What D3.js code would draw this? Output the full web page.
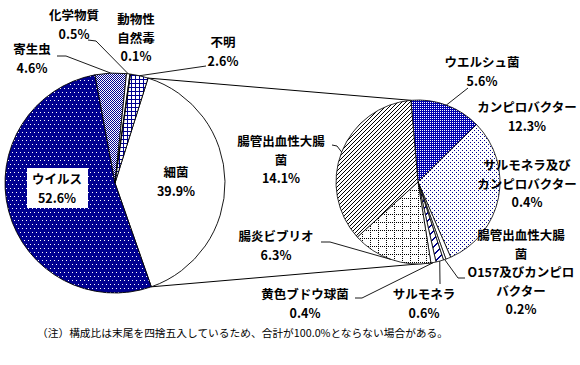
<!DOCTYPE html>
<html>
<head>
<meta charset="utf-8">
<script src="https://cdn.jsdelivr.net/npm/d3@7"></script>
<style>
  body { margin: 0; background: #fff; }
  text { font-family: "Noto Sans CJK JP", sans-serif; }
  pattern rect { shape-rendering: crispEdges; }
</style>
</head>
<body>
<div id="chart"></div>
<script>
// main pie (all causes), clockwise starting with bacteria
var leftCategories = ["細菌", "ウイルス", "寄生虫", "化学物質", "動物性自然毒", "不明"];
var leftValues = [39.9, 52.6, 4.6, 0.5, 0.1, 2.6];
var leftLabelLines = [["細菌"], ["ウイルス"], ["寄生虫"], ["化学物質"], ["動物性", "自然毒"], ["不明"]];

// secondary pie (breakdown of bacteria)
var rightCategories = ["ウエルシュ菌", "カンピロバクター", "サルモネラ及びカンピロバクター",
    "腸管出血性大腸菌O157及びカンピロバクター", "サルモネラ", "黄色ブドウ球菌", "腸炎ビブリオ", "腸管出血性大腸菌"];
var rightValues = [5.6, 12.3, 0.4, 0.2, 0.6, 0.4, 6.3, 14.1];
var rightLabelLines = [["ウエルシュ菌"], ["カンピロバクター"], ["サルモネラ及び", "カンピロバクター"],
    ["腸管出血性大腸", "菌", "O157及びカンピロ", "バクター"], ["サルモネラ"], ["黄色ブドウ球菌"], ["腸炎ビブリオ"], ["腸管出血性大腸", "菌"]];

var note = "（注）構成比は末尾を四捨五入しているため、合計が100.0%とならない場合がある。";

var width = 580, height = 365;
var deg = Math.PI / 180;

var svg = d3.select("#chart").append("svg")
    .attr("width", width)
    .attr("height", height);

// fill patterns (built on 8x8 tiles so they rasterise cleanly)
var defs = svg.append("defs");
var navy = "#000090";
function pattern(id, bg) {
    var p = defs.append("pattern").attr("id", id)
        .attr("patternUnits", "userSpaceOnUse").attr("width", 8).attr("height", 8);
    p.append("rect").attr("width", 8).attr("height", 8).attr("fill", bg);
    return p;
}
function dot(p, x, y, c) {
    p.append("rect").attr("x", x).attr("y", y).attr("width", 1).attr("height", 1).attr("fill", c);
}

var p1 = pattern("virus", navy);   // sparse white dots
[[1, 1], [5, 1], [3, 5], [7, 5]].forEach(function (q) { dot(p1, q[0], q[1], "#fff"); });

var p2 = pattern("checker", "#fff");  // 50% checkerboard
for (var i = 0; i < 8; i++) for (var j = 0; j < 8; j++) if ((i + j) % 2 == 0) dot(p2, i, j, navy);

var p3 = pattern("grid", "#fff");     // square grid
[0, 4].forEach(function (k) {
    p3.append("rect").attr("x", 0).attr("y", k).attr("width", 8).attr("height", 1).attr("fill", navy);
    p3.append("rect").attr("x", k).attr("y", 0).attr("width", 1).attr("height", 8).attr("fill", navy);
});

var p4 = pattern("densedots", "#0000b0");  // dense white dots
for (var i = 0; i < 8; i += 2) for (var j = 0; j < 8; j += 2) dot(p4, i, j, "#fff");

var p5 = pattern("lightdots", "#fff"); // sparse navy dots
for (var i = 0; i < 8; i += 4) for (var j = 0; j < 8; j += 4) { dot(p5, i, j, navy); dot(p5, i + 2, j + 2, navy); }

var p6 = pattern("diag", "#fff");      // thin forward diagonals
for (var k = 0; k < 8; k++) { dot(p6, k, (7 - k + 8) % 8, "#000"); dot(p6, k, (3 - k + 8) % 8, "#000"); }

var p7 = pattern("dotgrid", "#fff");   // dotted grid
[0, 2, 4, 6].forEach(function (k) { dot(p7, k, 0, "#000"); dot(p7, 0, k, "#000"); });

var p8 = pattern("stripes", "#fff");   // thick navy diagonals
for (var k = 0; k < 8; k++) {
    dot(p8, k, (7 - k + 8) % 8, navy); dot(p8, k, (8 - k + 8) % 8, navy);
}

var leftFills = ["#fff", "url(#virus)", "url(#checker)", "#fff", "#fff", "url(#grid)"];
var rightFills = ["url(#densedots)", "url(#lightdots)", "#fff", "#fff", "url(#stripes)", "#fff", "url(#dotgrid)", "url(#diag)"];

// geometry
var L = { cx: 115, cy: 183, r: 110, start: 17.5 * deg };
var R = { cx: 418, cy: 182, r: 82, start: -5 * deg };

function polar(p, a, r) {
    return [p.cx + r * Math.sin(a), p.cy - r * Math.cos(a)];
}

var leftPie = d3.pie().sort(null).value(function (d) { return d; })
    .startAngle(L.start).endAngle(L.start + 2 * Math.PI);
var rightPie = d3.pie().sort(null).value(function (d) { return d; })
    .startAngle(R.start).endAngle(R.start + 2 * Math.PI);
var leftArcs = leftPie(leftValues);
var rightArcs = rightPie(rightValues);

// connector lines between the two pies
var bac = leftArcs[0];
var conn = [
    [polar(L, bac.startAngle, L.r), polar(R, R.start, R.r)],
    [polar(L, bac.endAngle, L.r), polar(R, 170 * deg, R.r)]
];
svg.selectAll("line.conn").data(conn).enter().append("line")
    .attr("class", "conn")
    .attr("x1", function (d) { return d[0][0]; }).attr("y1", function (d) { return d[0][1]; })
    .attr("x2", function (d) { return d[1][0]; }).attr("y2", function (d) { return d[1][1]; })
    .attr("stroke", "#000").attr("stroke-width", 1);

var leftArc = d3.arc().innerRadius(0).outerRadius(L.r);
svg.append("g")
    .selectAll("path").data(leftArcs).enter().append("path")
    .attr("transform", "translate(" + L.cx + "," + L.cy + ")")
    .attr("d", leftArc)
    .attr("fill", function (d, i) { return leftFills[i]; })
    .attr("stroke", "#000").attr("stroke-width", 0.9);

var rightArc = d3.arc().innerRadius(0).outerRadius(R.r);
svg.append("g")
    .selectAll("path").data(rightArcs).enter().append("path")
    .attr("transform", "translate(" + R.cx + "," + R.cy + ")")
    .attr("d", rightArc)
    .attr("fill", function (d, i) { return rightFills[i]; })
    .attr("stroke", "#000").attr("stroke-width", 0.8);

// label layout: centre x, first line y, leader start points (null = no leader)
var leftLayout = [
    { x: 176, y: 173, lead: null },
    { x: 57, y: 180, lead: null, box: true },
    { x: 32, y: 50, lead: [[57, 56], [66, 56]] },
    { x: 74, y: 16, lead: [[88, 40], [96, 41]] },
    { x: 136, y: 20, lead: null },
    { x: 223, y: 43, lead: [[206, 66], [206, 66]] }
];
var rightLayout = [
    { x: 482, y: 63, lead: [[468, 88], [468, 88]] },
    { x: 527, y: 108, lead: null },
    { x: 527, y: 166, lead: null },
    { x: 521, y: 236, lead: [[465, 278], [458, 278]] },
    { x: 424, y: 295, lead: [[440, 284], [440, 284]] },
    { x: 305, y: 295, lead: [[355, 298], [362, 298]] },
    { x: 276, y: 237, lead: [[321, 242], [330, 242]] },
    { x: 281, y: 142, lead: [[332, 145], [337, 146]] }
];
var lineH = 18.5;

function drawLeaders(layout, arcs, p) {
    layout.forEach(function (l, i) {
        if (!l.lead) return;
        var a = (arcs[i].startAngle + arcs[i].endAngle) / 2;
        var pts = l.lead.concat([polar(p, a, p.r)]);
        svg.append("polyline")
            .attr("points", pts.map(function (q) { return q.join(","); }).join(" "))
            .attr("fill", "none").attr("stroke", "#000").attr("stroke-width", 0.9);
    });
}
drawLeaders(leftLayout, leftArcs, L);
drawLeaders(rightLayout, rightArcs, R);

function drawLabels(layout, lines, values) {
    layout.forEach(function (l, i) {
        var all = lines[i].concat([values[i].toFixed(1) + "%"]);
        if (l.box) {
            svg.append("rect").attr("x", l.x - 30).attr("y", l.y - 12)
                .attr("width", 61).attr("height", 40).attr("fill", "#fff");
        }
        var t = svg.append("text")
            .attr("text-anchor", "middle")
            .attr("font-size", "12.5px")
            .attr("font-weight", "bold");
        all.forEach(function (s, k) {
            t.append("tspan").attr("x", l.x).attr("y", l.y + k * lineH)
                .attr("dy", "0.35em").text(s);
        });
    });
}
drawLabels(leftLayout, leftLabelLines, leftValues);
drawLabels(rightLayout, rightLabelLines, rightValues);

svg.append("text")
    .attr("x", 37).attr("y", 333).attr("dy", "0.35em")
    .attr("font-size", "10.5px")
    .attr("textLength", 411).attr("lengthAdjust", "spacingAndGlyphs")
    .text(note);
</script>
</body>
</html>
